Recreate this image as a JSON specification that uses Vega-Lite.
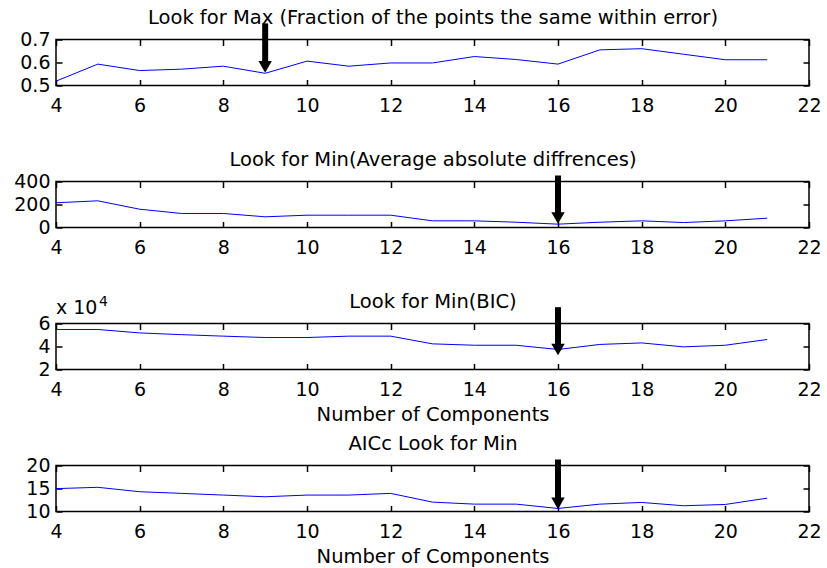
{
  "$schema": "https://vega.github.io/schema/vega-lite/v6.json",
  "background": "white",
  "padding": {"left": 12, "top": 6.5, "right": 0, "bottom": 0},
  "bounds": "flush",
  "spacing": 96,
  "datasets": {
    "p1": [{"n":4,"v":0.519},{"n":5,"v":0.593},{"n":6,"v":0.565},{"n":7,"v":0.571},{"n":8,"v":0.584},{"n":9,"v":0.553},{"n":10,"v":0.606},{"n":11,"v":0.584},{"n":12,"v":0.598},{"n":13,"v":0.598},{"n":14,"v":0.626},{"n":15,"v":0.613},{"n":16,"v":0.593},{"n":17,"v":0.655},{"n":18,"v":0.66},{"n":19,"v":0.636},{"n":20,"v":0.612},{"n":21,"v":0.612}],
    "p2": [{"n":4,"v":215},{"n":5,"v":232},{"n":6,"v":159},{"n":7,"v":122},{"n":8,"v":122},{"n":9,"v":93},{"n":10,"v":107},{"n":11,"v":107},{"n":12,"v":107},{"n":13,"v":58},{"n":14,"v":58},{"n":15,"v":46},{"n":16,"v":29},{"n":17,"v":46},{"n":18,"v":58},{"n":19,"v":43},{"n":20,"v":58},{"n":21,"v":81}],
    "p3": [{"n":4,"v":54800},{"n":5,"v":54800},{"n":6,"v":51800},{"n":7,"v":50300},{"n":8,"v":49000},{"n":9,"v":47800},{"n":10,"v":47800},{"n":11,"v":49000},{"n":12,"v":49000},{"n":13,"v":42300},{"n":14,"v":41100},{"n":15,"v":41100},{"n":16,"v":37400},{"n":17,"v":41800},{"n":18,"v":43100},{"n":19,"v":39700},{"n":20,"v":41100},{"n":21,"v":46100}],
    "p4": [{"n":4,"v":14.97},{"n":5,"v":15.26},{"n":6,"v":14.3},{"n":7,"v":13.94},{"n":8,"v":13.57},{"n":9,"v":13.2},{"n":10,"v":13.57},{"n":11,"v":13.57},{"n":12,"v":13.94},{"n":13,"v":12.04},{"n":14,"v":11.6},{"n":15,"v":11.6},{"n":16,"v":10.66},{"n":17,"v":11.6},{"n":18,"v":11.97},{"n":19,"v":11.25},{"n":20,"v":11.53},{"n":21,"v":12.9}],
    "a1": [{"n":9,"top":0.77,"tip":0.556}],
    "a2": [{"n":16,"top":452,"tip":32}],
    "a3": [{"n":16,"top":74200,"tip":32400}],
    "a4": [{"n":16,"top":21.3,"tip":10.5}]
  },
  "vconcat": [
    {
      "width": 753, "height": 46,
      "layer": [
        {"data": {"name": "p1"}, "mark": {"type": "line", "color": "#0000ff", "strokeWidth": 1},
         "encoding": {
           "x": {"field": "n", "type": "quantitative", "scale": {"domain": [4, 22], "nice": false, "zero": false},
                 "axis": {"orient": "bottom", "values": [4,6,8,10,12,14,16,18,20,22], "offset": -6, "tickSize": 6, "labelPadding": 10.5, "title": null, "labelFlush": false, "labelOverlap": false}},
           "y": {"field": "v", "type": "quantitative", "scale": {"domain": [0.5, 0.7], "nice": false, "zero": false},
                 "axis": {"orient": "left", "values": [0.5, 0.6, 0.7], "format": ".1f", "offset": -6, "tickSize": 6, "labelPadding": 6, "title": null, "labelOverlap": false}}
         }},
        {"data": {"name": "a1"}, "mark": {"type": "rule", "color": "black", "strokeWidth": 6, "y2Offset": -6},
         "encoding": {
           "x": {"field": "n", "type": "quantitative", "axis": {"orient": "top", "values": [4,6,8,10,12,14,16,18,20,22], "labels": false, "offset": -6, "tickSize": 6, "title": "Look for Max (Fraction of the points the same within error)", "titlePadding": 15, "titleBaseline": "alphabetic"}},
           "y": {"field": "top", "type": "quantitative", "axis": {"orient": "right", "values": [0.5, 0.6, 0.7], "labels": false, "offset": -6, "tickSize": 6, "title": null}},
           "y2": {"field": "tip"}
         }},
        {"data": {"name": "a1"}, "mark": {"type": "point", "shape": "triangle-down", "size": 180, "filled": true, "color": "black", "opacity": 1, "yOffset": -5.8},
         "encoding": {
           "x": {"field": "n", "type": "quantitative", "axis": null},
           "y": {"field": "tip", "type": "quantitative", "axis": null}
         }}
      ],
      "resolve": {"axis": {"x": "independent", "y": "independent"}}
    },
    {
      "width": 753, "height": 46,
      "layer": [
        {"data": {"name": "p2"}, "mark": {"type": "line", "color": "#0000ff", "strokeWidth": 1},
         "encoding": {
           "x": {"field": "n", "type": "quantitative", "scale": {"domain": [4, 22], "nice": false, "zero": false},
                 "axis": {"orient": "bottom", "values": [4,6,8,10,12,14,16,18,20,22], "offset": -6, "tickSize": 6, "labelPadding": 10.5, "title": null, "labelFlush": false, "labelOverlap": false}},
           "y": {"field": "v", "type": "quantitative", "scale": {"domain": [0, 400], "nice": false, "zero": false},
                 "axis": {"orient": "left", "values": [0, 200, 400], "offset": -6, "tickSize": 6, "labelPadding": 6, "title": null, "labelOverlap": false}}
         }},
        {"data": {"name": "a2"}, "mark": {"type": "rule", "color": "black", "strokeWidth": 6, "y2Offset": -6},
         "encoding": {
           "x": {"field": "n", "type": "quantitative", "axis": {"orient": "top", "values": [4,6,8,10,12,14,16,18,20,22], "labels": false, "offset": -6, "tickSize": 6, "title": "Look for Min(Average absolute diffrences)", "titlePadding": 15, "titleBaseline": "alphabetic"}},
           "y": {"field": "top", "type": "quantitative", "axis": {"orient": "right", "values": [0, 200, 400], "labels": false, "offset": -6, "tickSize": 6, "title": null}},
           "y2": {"field": "tip"}
         }},
        {"data": {"name": "a2"}, "mark": {"type": "point", "shape": "triangle-down", "size": 180, "filled": true, "color": "black", "opacity": 1, "yOffset": -5.8},
         "encoding": {
           "x": {"field": "n", "type": "quantitative", "axis": null},
           "y": {"field": "tip", "type": "quantitative", "axis": null}
         }}
      ],
      "resolve": {"axis": {"x": "independent", "y": "independent"}}
    },
    {
      "width": 753, "height": 46,
      "layer": [
        {"data": {"name": "p3"}, "mark": {"type": "line", "color": "#0000ff", "strokeWidth": 1},
         "encoding": {
           "x": {"field": "n", "type": "quantitative", "scale": {"domain": [4, 22], "nice": false, "zero": false},
                 "axis": {"orient": "bottom", "values": [4,6,8,10,12,14,16,18,20,22], "offset": -6, "tickSize": 6, "labelPadding": 10.5, "title": "Number of Components", "titlePadding": 6, "labelFlush": false, "labelOverlap": false}},
           "y": {"field": "v", "type": "quantitative", "scale": {"domain": [20000, 60000], "nice": false, "zero": false},
                 "axis": {"orient": "left", "values": [20000, 40000, 60000], "labelExpr": "format(datum.value / 10000, 'd')", "offset": -6, "tickSize": 6, "labelPadding": 6, "title": null, "labelOverlap": false}}
         }},
        {"data": {"name": "a3"}, "mark": {"type": "rule", "color": "black", "strokeWidth": 6, "y2Offset": -6},
         "encoding": {
           "x": {"field": "n", "type": "quantitative", "axis": {"orient": "top", "values": [4,6,8,10,12,14,16,18,20,22], "labels": false, "offset": -6, "tickSize": 6, "title": "Look for Min(BIC)", "titlePadding": 15, "titleBaseline": "alphabetic"}},
           "y": {"field": "top", "type": "quantitative", "axis": {"orient": "right", "values": [20000, 40000, 60000], "labels": false, "offset": -6, "tickSize": 6, "title": null}},
           "y2": {"field": "tip"}
         }},
        {"data": {"name": "a3"}, "mark": {"type": "point", "shape": "triangle-down", "size": 180, "filled": true, "color": "black", "opacity": 1, "yOffset": -5.8},
         "encoding": {
           "x": {"field": "n", "type": "quantitative", "axis": null},
           "y": {"field": "tip", "type": "quantitative", "axis": null}
         }},
        {"data": {"values": [{"n": 4, "v": 60000, "t": "x 10"}]}, "mark": {"type": "text", "align": "left", "baseline": "alphabetic", "dy": -10, "fontSize": 19, "font": "DejaVu Sans", "color": "black"},
         "encoding": {
           "x": {"field": "n", "type": "quantitative", "axis": null},
           "y": {"field": "v", "type": "quantitative", "axis": null},
           "text": {"field": "t"}
         }},
        {"data": {"values": [{"n": 4, "v": 60000, "t": "4"}]}, "mark": {"type": "text", "align": "left", "baseline": "alphabetic", "dx": 43, "dy": -18, "fontSize": 14, "font": "DejaVu Sans", "color": "black"},
         "encoding": {
           "x": {"field": "n", "type": "quantitative", "axis": null},
           "y": {"field": "v", "type": "quantitative", "axis": null},
           "text": {"field": "t"}
         }}
      ],
      "resolve": {"axis": {"x": "independent", "y": "independent"}}
    },
    {
      "width": 753, "height": 46,
      "layer": [
        {"data": {"name": "p4"}, "mark": {"type": "line", "color": "#0000ff", "strokeWidth": 1},
         "encoding": {
           "x": {"field": "n", "type": "quantitative", "scale": {"domain": [4, 22], "nice": false, "zero": false},
                 "axis": {"orient": "bottom", "values": [4,6,8,10,12,14,16,18,20,22], "offset": -6, "tickSize": 6, "labelPadding": 10.5, "title": "Number of Components", "titlePadding": 6, "labelFlush": false, "labelOverlap": false}},
           "y": {"field": "v", "type": "quantitative", "scale": {"domain": [10, 20], "nice": false, "zero": false},
                 "axis": {"orient": "left", "values": [10, 15, 20], "offset": -6, "tickSize": 6, "labelPadding": 6, "title": null, "labelOverlap": false}}
         }},
        {"data": {"name": "a4"}, "mark": {"type": "rule", "color": "black", "strokeWidth": 6, "y2Offset": -6},
         "encoding": {
           "x": {"field": "n", "type": "quantitative", "axis": {"orient": "top", "values": [4,6,8,10,12,14,16,18,20,22], "labels": false, "offset": -6, "tickSize": 6, "title": "AICc Look for Min", "titlePadding": 15, "titleBaseline": "alphabetic"}},
           "y": {"field": "top", "type": "quantitative", "axis": {"orient": "right", "values": [10, 15, 20], "labels": false, "offset": -6, "tickSize": 6, "title": null}},
           "y2": {"field": "tip"}
         }},
        {"data": {"name": "a4"}, "mark": {"type": "point", "shape": "triangle-down", "size": 180, "filled": true, "color": "black", "opacity": 1, "yOffset": -5.8},
         "encoding": {
           "x": {"field": "n", "type": "quantitative", "axis": null},
           "y": {"field": "tip", "type": "quantitative", "axis": null}
         }}
      ],
      "resolve": {"axis": {"x": "independent", "y": "independent"}}
    }
  ],
  "config": {
    "font": "DejaVu Sans",
    "view": {"stroke": "black", "strokeWidth": 1.5},
    "axis": {
      "labelFont": "DejaVu Sans", "labelFontSize": 19, "labelColor": "black",
      "tickColor": "black", "tickWidth": 1.5, "domain": false, "grid": false,
      "titleFont": "DejaVu Sans", "titleFontSize": 19.5, "titleFontWeight": "normal", "titleColor": "black"
    }
  }
}
